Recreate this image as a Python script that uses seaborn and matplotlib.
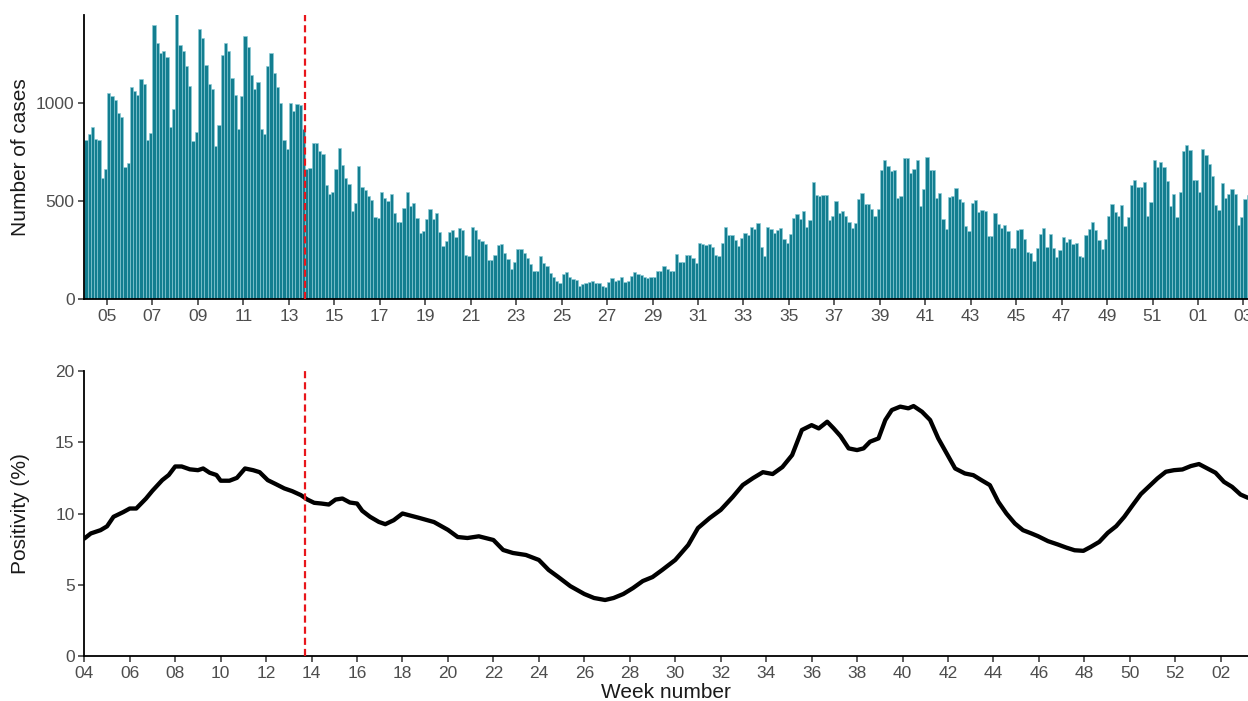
import matplotlib
matplotlib.use("Agg")
import matplotlib.pyplot as plt
import seaborn as sns
import pandas as pd
import numpy as np

# ---------------- data ----------------
cases = [
    810, 840, 877, 819, 810, 616, 664, 1053, 1034, 1015, 949, 930, 674, 693,
    1082, 1063, 1044, 1124, 1100, 814, 848, 1397, 1309, 1258, 1266, 1235, 879, 971,
    1456, 1295, 1266, 1189, 1090, 805, 855, 1380, 1331, 1195, 1100, 1073, 780, 889,
    1244, 1309, 1264, 1128, 1041, 869, 1036, 1341, 1287, 1142, 1070, 1109, 869, 841,
    1191, 1256, 1154, 1082, 1002, 811, 764, 1000, 961, 997, 988, 869, 664, 669,
    797, 797, 754, 741, 584, 536, 544, 664, 771, 686, 618, 589, 451, 491,
    679, 572, 555, 526, 507, 420, 413, 544, 514, 500, 536, 439, 392, 391,
    464, 546, 473, 490, 416, 336, 348, 410, 459, 408, 439, 341, 271, 295,
    343, 353, 319, 360, 350, 225, 220, 370, 353, 307, 297, 280, 200, 200,
    225, 276, 283, 234, 203, 154, 188, 256, 256, 234, 208, 179, 145, 145,
    217, 183, 166, 131, 114, 94, 84, 128, 138, 114, 104, 97, 68, 77,
    84, 87, 94, 80, 80, 68, 63, 89, 106, 94, 97, 111, 85, 92,
    119, 140, 128, 123, 114, 109, 111, 114, 145, 145, 166, 155, 145, 145,
    230, 191, 191, 224, 224, 208, 186, 285, 280, 275, 280, 265, 225, 220,
    285, 367, 326, 328, 302, 273, 309, 336, 329, 370, 358, 387, 265, 220,
    370, 357, 336, 353, 360, 305, 285, 331, 413, 435, 410, 447, 370, 404,
    596, 532, 527, 530, 532, 401, 422, 498, 439, 447, 422, 391, 365, 387,
    510, 541, 483, 483, 462, 422, 461, 660, 712, 677, 652, 660, 515, 527,
    720, 720, 643, 664, 708, 476, 561, 725, 657, 660, 515, 541, 408, 357,
    520, 524, 565, 510, 495, 375, 345, 490, 505, 442, 454, 450, 324, 324,
    439, 384, 363, 379, 348, 259, 258, 350, 357, 305, 242, 234, 196, 259,
    333, 360, 268, 331, 259, 213, 251, 316, 290, 305, 280, 287, 220, 212,
    328, 358, 391, 350, 302, 254, 305, 425, 486, 444, 425, 481, 374, 418,
    580, 606, 572, 570, 597, 425, 493, 708, 674, 698, 674, 601, 473, 536,
    418, 544, 754, 785, 759, 609, 609, 544, 766, 735, 689, 630, 478, 452,
    594, 514, 538, 563, 538, 379, 418, 510, 529,
]

pos_days = [
    0, 2, 5, 7, 9, 12, 14, 16, 19, 21, 24, 26, 28, 30, 32.5, 35, 36.6, 38.6,
    40.7, 42, 44.7, 47, 49.5, 52, 54, 56.5, 59, 61.6, 64, 66.7, 68.7, 70.8, 73,
    75.3, 77.4, 79.5, 81.8, 84, 85.6, 88, 90.7, 92.7, 95.3, 98, 100, 103, 107.7,
    112, 115, 118, 121.5, 126, 129, 132, 136, 140, 143, 146, 149.7, 154, 157,
    160.4, 163, 166, 169, 172, 175, 178, 182, 186, 189, 192.6, 196, 199.7,
    202.8, 206, 209, 212, 215, 218, 221, 224, 226.2, 228.8, 230.8, 232.9, 235.4,
    238, 240, 242, 244.6, 246.7, 248.7, 251.3, 253.8, 255.4, 258, 260.5, 263,
    265.6, 268.2, 271.2, 273.8, 276.3, 278.9, 281.5, 284, 286.6, 289.1, 291.7,
    293.7, 296.8, 299.9, 302.4, 305, 307.7, 310, 312.6, 315.2, 317.8, 320.3,
    322.9, 325.4, 328, 330.5, 333.1, 335.6, 338.2, 340.8, 343.3, 345.9, 348.4,
    351, 353.5, 356.1, 358.4,
]
pos_values = [
    8.24, 8.6, 8.83, 9.1, 9.77, 10.1, 10.35, 10.35, 11.05, 11.6, 12.34, 12.7,
    13.3, 13.3, 13.1, 13.04, 13.16, 12.86, 12.7, 12.3, 12.3, 12.5, 13.16, 13.04,
    12.9, 12.34, 12.06, 11.76, 11.57, 11.29, 10.98, 10.75, 10.7, 10.63, 10.98,
    11.05, 10.77, 10.7, 10.19, 9.77, 9.41, 9.25, 9.53, 10.0, 9.88, 9.7, 9.4,
    8.85, 8.35, 8.28, 8.4, 8.14, 7.44, 7.23, 7.09, 6.74, 6.04, 5.54, 4.9, 4.35,
    4.07, 3.93, 4.07, 4.35, 4.77, 5.26, 5.54, 6.04, 6.74, 7.79, 8.98, 9.68,
    10.25, 11.16, 12.0, 12.49, 12.9, 12.77, 13.26, 14.1, 15.86, 16.2, 15.97,
    16.44, 15.97, 15.43, 14.57, 14.45, 14.57, 15.04, 15.27, 16.56, 17.26, 17.5,
    17.38, 17.54, 17.14, 16.56, 15.27, 14.22, 13.16, 12.81, 12.69, 12.34, 11.99,
    10.82, 10.0, 9.3, 8.83, 8.6, 8.41, 8.06, 7.82, 7.61, 7.42, 7.38, 7.66, 8.01,
    8.64, 9.11, 9.77, 10.59, 11.36, 11.92, 12.46, 12.93, 13.04, 13.09, 13.33,
    13.47, 13.16, 12.86, 12.22, 11.87, 11.33, 11.1,
]

weeks = list(range(4, 53)) + [1, 2, 3]
intervention_day = 68
x_max = 358.4

# ---------------- style ----------------
sns.set_theme(style="ticks")
plt.rcParams['font.family'] = ['Liberation Sans', 'DejaVu Sans']

W, H = 1248, 701
fig = plt.figure(figsize=(W / 100, H / 100), dpi=100)
left = 84.3 / W
width = (W - 84.3) / W
ax1 = fig.add_axes([left, 1 - 299 / H, width, 284 / H])
ax2 = fig.add_axes([left, 1 - 656 / H, width, 285 / H])

bar_color = '#137E90'
df_cases = pd.DataFrame({'day': np.arange(len(cases)) + 0.5, 'cases': cases})
sns.barplot(data=df_cases, x='day', y='cases', native_scale=True,
            color=bar_color, saturation=1, width=1.0, errorbar=None,
            edgecolor='#8CCBD6', linewidth=0.45, ax=ax1)

df_pos = pd.DataFrame({'day': pos_days, 'positivity': pos_values})
sns.lineplot(data=df_pos, x='day', y='positivity', color='black',
             linewidth=3.1, ax=ax2)

tick_days = [7 * i for i in range(len(weeks))]
top_ticks = [d for d, w in zip(tick_days, weeks) if w % 2 == 1]
top_labels = [f"{w:02d}" for w in weeks if w % 2 == 1]
bot_ticks = [d for d, w in zip(tick_days, weeks) if w % 2 == 0]
bot_labels = [f"{w:02d}" for w in weeks if w % 2 == 0]

for ax in (ax1, ax2):
    ax.set_xlim(0, x_max)
    ax.axvline(intervention_day, color='#E8161B', linestyle=(0, (3.2, 1.8)),
               linewidth=1.6, zorder=5)
    sns.despine(ax=ax)
    for s in ('left', 'bottom'):
        ax.spines[s].set_color('black')
        ax.spines[s].set_linewidth(1.3)
    ax.tick_params(axis='both', length=4, width=1.1, color='#333333',
                   labelcolor='#4D4D4D', labelsize=12.5, pad=3)
    ax.set_facecolor('white')

ax1.set_ylim(0, 1450)
ax1.set_yticks([0, 500, 1000])
ax1.set_xticks(top_ticks)
ax1.set_xticklabels(top_labels)
ax1.set_xlabel('')
ax1.set_ylabel('Number of cases', fontsize=15, color='#1A1A1A')
ax1.yaxis.set_label_coords(-0.047, 0.5)

ax2.set_ylim(0, 20)
ax2.set_yticks([0, 5, 10, 15, 20])
ax2.set_xticks(bot_ticks)
ax2.set_xticklabels(bot_labels)
ax2.set_ylabel('Positivity (%)', fontsize=15, color='#1A1A1A')
ax2.yaxis.set_label_coords(-0.047, 0.5)
ax2.set_xlabel('Week number', fontsize=15, color='#1A1A1A')
ax2.xaxis.set_label_coords(0.5, -0.094)

fig.savefig('out.png', dpi=100, facecolor='white')
